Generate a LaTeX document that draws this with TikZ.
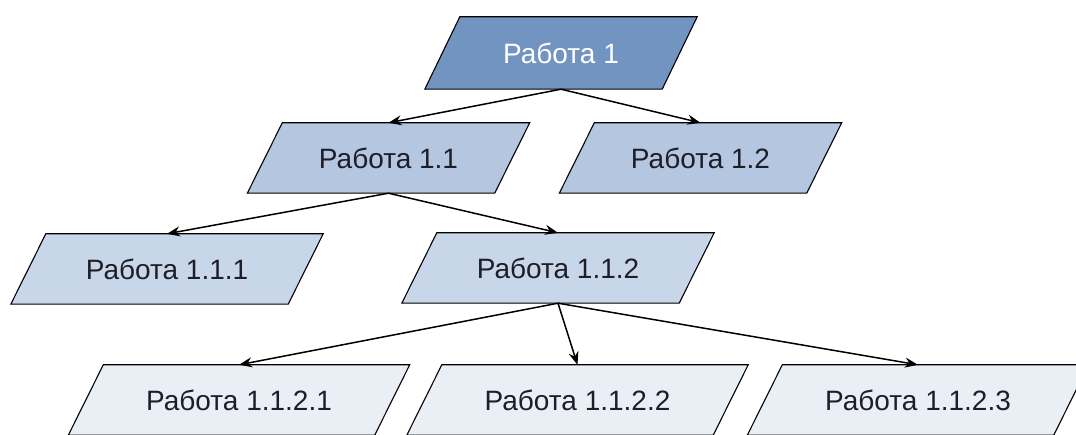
\documentclass[tikz,border=0pt]{standalone}
\usepackage{fontspec}
\setmainfont{Liberation Sans}
\usetikzlibrary{arrows.meta,backgrounds}
\definecolor{lvA}{HTML}{7294C0}
\definecolor{lvB}{HTML}{B4C6E0}
\definecolor{lvC}{HTML}{C8D6E9}
\definecolor{lvD}{HTML}{EAEFF6}
\definecolor{txt}{HTML}{1E1E28}
\tikzset{
  box/.style={draw=none, inner sep=0pt, minimum height=70pt,
    font=\fontsize{28}{33}\selectfont, text=txt},
  link/.style={line width=1.5pt, -{Stealth[length=13pt,width=10pt]}},
  para/.style={draw=black, line width=1.1pt, line join=miter}
}
\newcommand{\parabox}[2]{%
  \filldraw[para, fill=#2] ([xshift=-17.5pt]#1.south west) -- ([xshift=17.5pt]#1.north west)
    -- ([xshift=17.5pt]#1.north east) -- ([xshift=-17.5pt]#1.south east) -- cycle;}
\begin{document}
\begin{tikzpicture}[x=1pt,y=-1pt]
\useasboundingbox (0,0) rectangle (1076,435);
\node[box, minimum width=237pt, minimum height=72pt, text=white] (r1) at (561,53) {Работа 1};
\node[box, minimum width=247pt] (r11) at (388.5,158) {Работа 1.1};
\node[box, minimum width=247pt] (r12) at (700.5,158) {Работа 1.2};
\node[box, minimum width=277pt] (r111) at (167,269) {Работа 1.1.1};
\node[box, minimum width=277pt] (r112) at (558,268) {Работа 1.1.2};
\node[box, minimum width=306pt] (r1121) at (239,400) {Работа 1.1.2.1};
\node[box, minimum width=306pt] (r1122) at (577.5,400) {Работа 1.1.2.2};
\node[box, minimum width=306pt] (r1123) at (918,400) {Работа 1.1.2.3};
\begin{scope}[on background layer]
  \parabox{r1}{lvA}
  \parabox{r11}{lvB}
  \parabox{r12}{lvB}
  \parabox{r111}{lvC}
  \parabox{r112}{lvC}
  \parabox{r1121}{lvD}
  \parabox{r1122}{lvD}
  \parabox{r1123}{lvD}
\end{scope}
\draw[link] (r1.south) -- (r11.north);
\draw[link] (r1.south) -- (r12.north);
\draw[link] (r11.south) -- (r111.north);
\draw[link] (r11.south) -- (r112.north);
\draw[link] (r112.south) -- (r1121.north);
\draw[link] (r112.south) -- (r1122.north);
\draw[link] (r112.south) -- (r1123.north);
\end{tikzpicture}
\end{document}
